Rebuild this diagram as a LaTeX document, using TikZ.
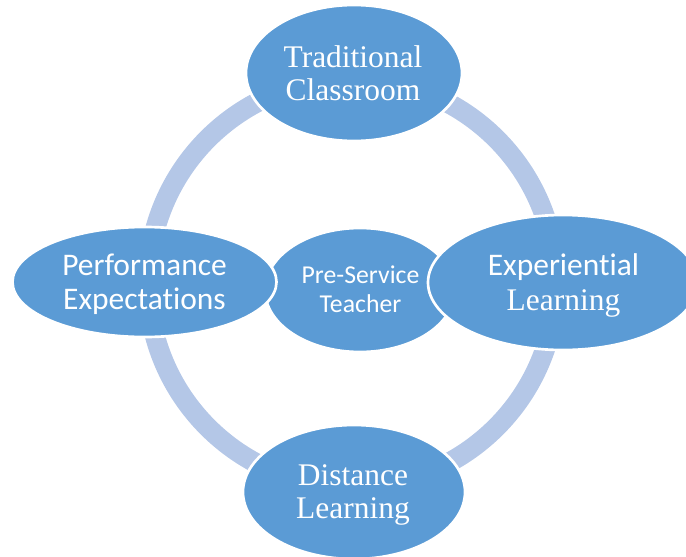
\documentclass[tikz,border=0pt]{standalone}
\usepackage{fontspec}
\setmainfont{Liberation Serif}
\newfontfamily\carlito[Ligatures=NoCommon]{Carlito}
\usetikzlibrary{shapes.geometric}
\definecolor{ringblue}{HTML}{B4C7E7}
\definecolor{nodeblue}{HTML}{5B9BD5}
\begin{document}
\begin{tikzpicture}[x=0.75pt,y=-0.75pt,
  bubble/.style={ellipse, fill=nodeblue, draw=white, line width=2pt, inner sep=0pt, outer sep=0pt},
  label/.style={text=white, align=center, inner sep=0pt},
  serifbig/.style={label, font=\fontsize{23.6}{24.75}\selectfont},
  mixbig/.style={label, font=\fontsize{23.6}{26.25}\selectfont},
  sansbig/.style={label, font=\carlito\fontsize{23.6}{25.5}\selectfont},
  sanssmall/.style={label, font=\carlito\fontsize{19.3}{21.75}\selectfont}]
\useasboundingbox (0,0) rectangle (686,557);
\clip (0,0) rectangle (686,557);
% ring
\node[circle, draw=ringblue, line width=15pt, minimum size=306pt, inner sep=0pt] (ring) at (352,283) {};
% ellipses
\node[bubble, minimum width=142.5pt, minimum height=93pt] (pst) at (360,290) {};
\node[bubble, minimum width=162pt, minimum height=102pt] (trad) at (354,73) {};
\node[bubble, minimum width=166.5pt, minimum height=100.5pt] (dist) at (354,492) {};
\node[bubble, minimum width=198pt, minimum height=82.5pt] (perf) at (144.5,282) {};
\node[bubble, minimum width=202.5pt, minimum height=101.25pt] (exp) at (563,282.5) {};
% texts
\node[sanssmall] (pstt) at (360.5,289.5) {Pre-Service\\Teacher};
\node[serifbig] (tradt) at (353,73) {Traditional\\Classroom};
\node[serifbig] (distt) at (353,494.5) {Distance\\Learning};
\node[sansbig] (perft) at (144.5,284) {Performance\\Expectations};
\node[mixbig] (expt) at (563.5,285.5) {{\carlito Experiential}\\Learning};
\end{tikzpicture}
\end{document}
